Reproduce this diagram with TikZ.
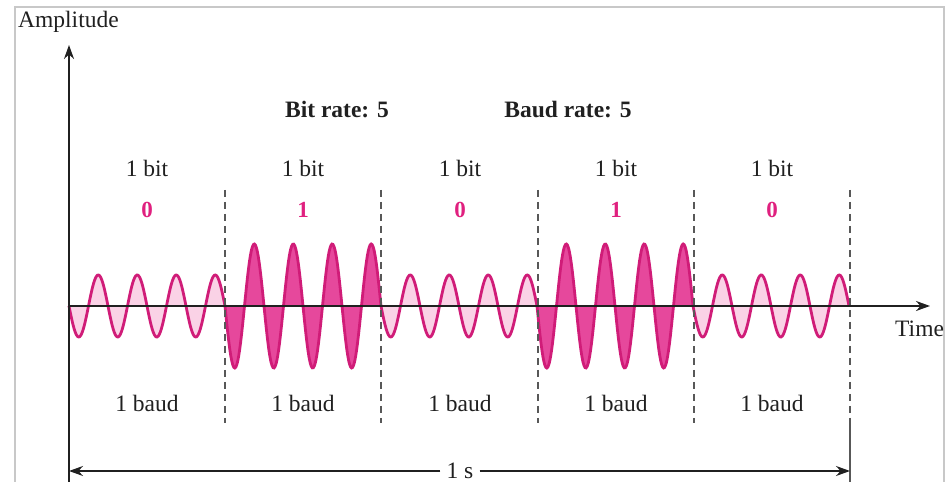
\documentclass[tikz,border=0pt]{standalone}
\usepackage{fontspec}
\setmainfont{Liberation Serif}
\usetikzlibrary{arrows.meta}
\definecolor{wavestroke}{HTML}{D01C78}
\definecolor{darkfill}{HTML}{E6489C}
\definecolor{lightfill}{HTML}{FAD2E6}
\definecolor{bitcol}{HTML}{E0207F}
\definecolor{framecol}{HTML}{C8C8C8}
\definecolor{ink}{HTML}{202020}
\tikzset{
  lbl/.style={font=\fontsize{23.5}{26}\selectfont, text=ink, inner sep=0pt},
  boldlbl/.style={font=\fontsize{23.5}{26}\selectfont\bfseries, text=ink, inner sep=0pt},
  bitlbl/.style={font=\fontsize{23}{26}\selectfont\bfseries, text=bitcol, inner sep=0pt},
  axisline/.style={draw=ink, line width=1.8pt},
  divider/.style={draw=ink!75, line width=1.5pt, dash pattern=on 7pt off 5pt},
  wave/.style={draw=wavestroke, line width=2.8pt},
  arrowtip/.style={-{Stealth[length=14pt,width=10pt]}}
}
\begin{document}
\begin{tikzpicture}[x=1pt,y=1pt]
\useasboundingbox (0,0) rectangle (948,482);
\fill[white] (0,0) rectangle (948,482);
% frame
\draw[framecol, line width=1.2pt] (15,0) -- (15,475) -- (944,475) -- (944,0);
% wave fills
\foreach \i/\A/\f in {0/31/lightfill,1/62/darkfill,2/31/lightfill,3/62/darkfill,4/31/lightfill}{
  \pgfmathsetmacro{\xo}{69+156*\i}
  \fill[\f] plot[domain=0:156, samples=160, smooth] ({\xo+\x}, {176-\A*sin(9.230769*\x)}) -- cycle;
  \draw[wave] plot[domain=0:156, samples=160, smooth] ({\xo+\x}, {176-\A*sin(9.230769*\x)});
}
% coordinates
\coordinate (O) at (69,176);
\coordinate (ytip) at (69,437);
\coordinate (ybot) at (69,0);
\coordinate (xtip) at (930,176);
\foreach \n/\xx in {1/225,2/381,3/538,4/694,5/850}{
  \coordinate (d\n t) at (\xx,292);
  \coordinate (d\n b) at (\xx,59);
}
\coordinate (endbot) at (850,0);
% dividers
\foreach \n in {1,2,3,4,5}{ \draw[divider] (d\n t) -- (d\n b); }
\draw[draw=ink!75, line width=1.5pt] (d5b) -- (endbot);
% axes
\draw[axisline, arrowtip] (ybot) -- (ytip);
\draw[axisline, arrowtip] (O) -- (xtip);
% labels
\node[lbl, anchor=west] (amp) at (18,460) {Amplitude};
\node[lbl, anchor=west] (time) at (895,153) {Time};
\node[boldlbl] (bitrate) at (337,372) {Bit rate: 5};
\node[boldlbl] (baudrate) at (568,372) {Baud rate: 5};
\foreach \n/\xx/\b in {1/147/0,2/303/1,3/460/0,4/616/1,5/772/0}{
  \node[lbl] (bit\n) at (\xx,314) {1 bit};
  \node[bitlbl] (val\n) at (\xx,272) {\b};
  \node[lbl] (baud\n) at (\xx,79) {1 baud};
}
% 1 s dimension
\coordinate (sL) at (69,11);
\coordinate (sR) at (850,11);
\node[lbl, fill=white, inner xsep=6pt, inner ysep=2pt] (ones) at (460,11) {1 s};
\draw[draw=ink, line width=1.4pt, arrowtip] (ones.west) -- (sL);
\draw[draw=ink, line width=1.4pt, arrowtip] (ones.east) -- (sR);
\end{tikzpicture}
\end{document}
